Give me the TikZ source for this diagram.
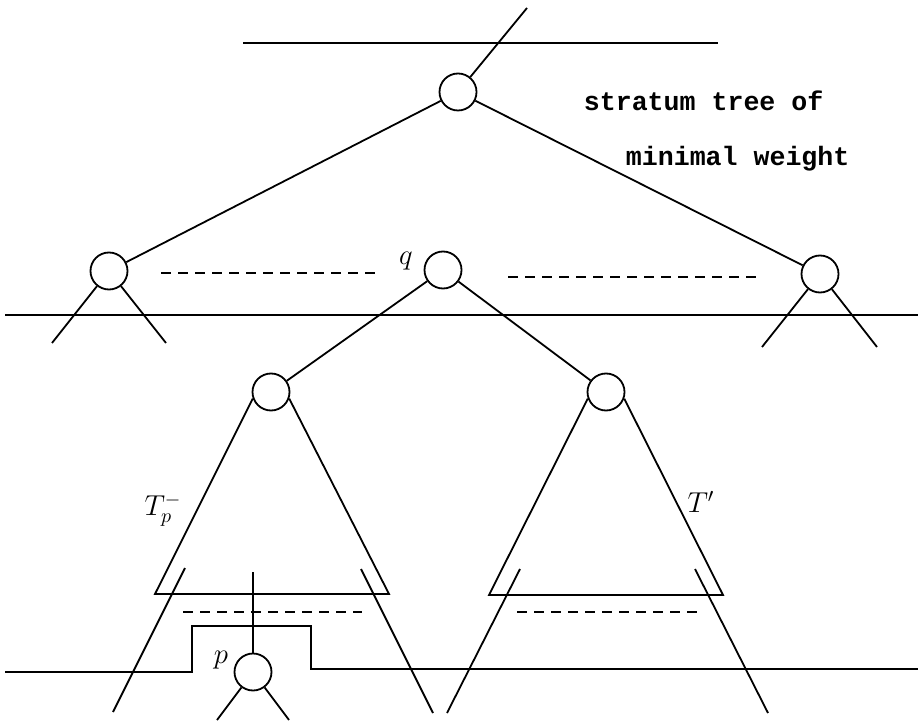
\documentclass[tikz,border=0pt]{standalone}
\usepackage{fontspec}
\newfontfamily\capfont{Liberation Mono}
\usetikzlibrary{positioning}

\begin{document}
\begin{tikzpicture}[
  x=0.5pt, y=-0.5pt,
  line width=0.9pt,
  vertex/.style={circle, draw, minimum size=18.5pt, inner sep=0pt},
  gap/.style={dash pattern=on 5pt off 3.5pt},
  lbl/.style={font=\Large, inner sep=0pt},
  caption/.style={font=\capfont\bfseries\fontsize{13.3}{16}\selectfont, anchor=base west, inner sep=0pt},
]
\useasboundingbox (0,0) rectangle (920,721);

% Top stratum - root of the tree
\draw (243,43) -- (718,43);
\node[vertex] (root) at (458,92) {};
\coordinate (up) at (527,8);
\draw (root) -- (up);

\node[caption] (cap1) at (583,111) {stratum tree of};
\node[caption] (cap2) at (625,166) {minimal weight};

% Second level - q and its siblings
\node[vertex] (lft) at (109,271) {};
\node[vertex] (q) at (443,270) {};
\node[vertex] (rgt) at (820,274) {};
\node[lbl] (qlbl) at (406,261) {$q$};

\draw (root) -- (lft);
\draw (root) -- (rgt);
\draw[gap] (161,273) -- (380,273);
\draw[gap] (508,277) -- (760,277);
\draw (5,315) -- (918,315);

\coordinate (lft-a) at (52,343);
\coordinate (lft-b) at (166,343);
\coordinate (rgt-a) at (762,347);
\coordinate (rgt-b) at (877,347);
\draw (lft) -- (lft-a);
\draw (lft) -- (lft-b);
\draw (rgt) -- (rgt-a);
\draw (rgt) -- (rgt-b);

% Third level - subtrees T_p^- and T'
\node[vertex] (tl) at (271,392) {};
\node[vertex] (tr) at (606,392) {};
\draw (q) -- (tl);
\draw (q) -- (tr);

\coordinate (tl-bl) at (155,594);
\coordinate (tl-br) at (389,594);
\coordinate (tr-bl) at (489,595);
\coordinate (tr-br) at (723,595);
\draw (tl.200) -- (tl-bl) -- (tl-br) -- (tl.340);
\draw (tr.200) -- (tr-bl) -- (tr-br) -- (tr.340);

\node[lbl] (tplbl) at (163,510) {$T_p^-$};
\node[lbl] (trlbl) at (701,502) {$T'$};

% wider trees below the subtrees
\draw (185,568) -- (113,712);
\draw (361,569) -- (433,713);
\draw (520,569) -- (447,713);
\draw (695,569) -- (768,713);
\draw[gap] (183,612) -- (362,612);
\draw[gap] (517,612) -- (697,612);

% Lower stratum - node p
\node[vertex] (p) at (253,672) {};
\node[lbl] (plbl) at (221,660) {$p$};
\coordinate (p-up) at (253,572);
\coordinate (p-a) at (217,720);
\coordinate (p-b) at (289,720);
\draw (p-up) -- (p);
\draw (p) -- (p-a);
\draw (p) -- (p-b);

\draw (5,672) -- (192,672) -- (192,626) -- (311,626) -- (311,669) -- (918,669);

\end{tikzpicture}
\end{document}
